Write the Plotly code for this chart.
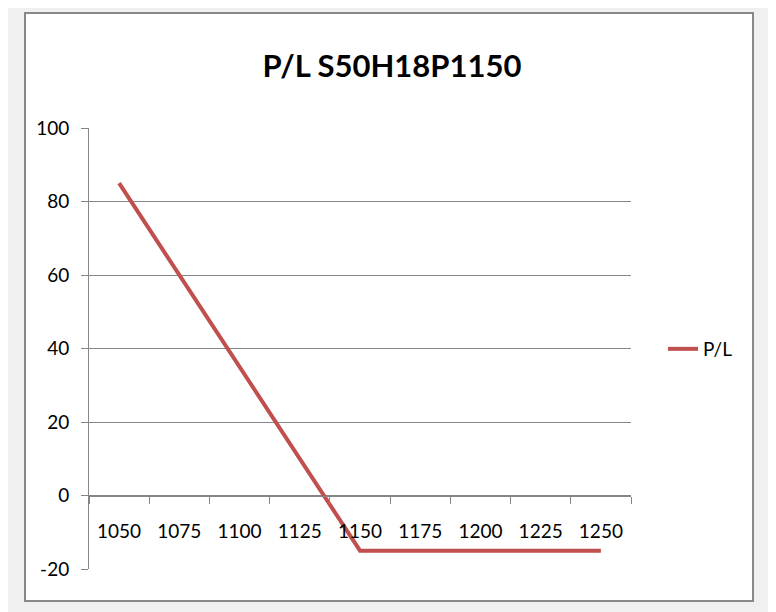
import plotly.graph_objects as go

# Data
categories = ["1050", "1075", "1100", "1125", "1150", "1175", "1200", "1225", "1250"]
pl_values = [85, 60, 35, 10, -15, -15, -15, -15, -15]
y_tick_values = [-20, 0, 20, 40, 60, 80, 100]
y_tick_labels = ["-20", "0", "20", "40", "60", "80", "100"]
series_name = "P/L"
chart_title = "P/L S50H18P1150"

OFF = 8  # page body margin
W, H = 776 - OFF, 612 - OFF
L, R, T, B = 89 - OFF, 631 - OFF, 128 - OFF, 569 - OFF  # plot area in figure px
pw, ph = R - L, B - T
YMIN, YMAX = -20, 100

def px_x(x):
    return (x - OFF - L) / pw

def px_y(y):
    return (B - (y - OFF)) / ph

FONT = "Lato, Roboto, Liberation Sans, sans-serif"
GRID = "#868686"

fig = go.Figure()
fig.add_trace(go.Scatter(
    x=categories, y=pl_values, mode="lines", name=series_name,
    line=dict(color="#C0504D", width=4),
))

fig.update_layout(
    width=W, height=H,
    margin=dict(l=L, r=W - R, t=T, b=H - B, autoexpand=False),
    paper_bgcolor="#f0f0f0",
    plot_bgcolor="rgba(0,0,0,0)",
    font=dict(family=FONT, size=19, color="#000000"),
    title=dict(text="<b>" + chart_title + "</b>", x=0.5, xref="container",
               xanchor="center", y=1 - (66 - OFF) / H, yref="container", yanchor="middle",
               font=dict(family=FONT, size=31, color="#000000")),
    showlegend=True,
    legend=dict(x=px_x(663), y=px_y(349), xanchor="left", yanchor="middle",
                bgcolor="rgba(0,0,0,0)", font=dict(size=19)),
    xaxis=dict(
        type="category", categoryorder="array", categoryarray=categories,
        range=[-0.5, len(categories) - 0.5],
        anchor="free", position=(0 - YMIN) / (YMAX - YMIN),
        showline=True, linecolor=GRID, linewidth=1,
        showgrid=False, zeroline=False,
        ticks="outside", tickson="boundaries", ticklen=7, tickcolor=GRID,
        ticklabelstandoff=19,
    ),
    yaxis=dict(
        range=[YMIN, YMAX], tickmode="array",
        tickvals=y_tick_values, ticktext=y_tick_labels,
        showline=True, linecolor=GRID, linewidth=1,
        showgrid=True, gridcolor=GRID, gridwidth=1,
        zeroline=False,
        ticks="outside", ticklen=7, tickcolor=GRID,
        ticklabelstandoff=8,
    ),
    shapes=[
        dict(type="rect", xref="paper", yref="paper", layer="below",
             x0=px_x(25), x1=px_x(753), y0=px_y(601), y1=px_y(13),
             fillcolor="#ffffff", line=dict(color="#888888", width=2)),
    ],
)

fig.write_html("out.html")
